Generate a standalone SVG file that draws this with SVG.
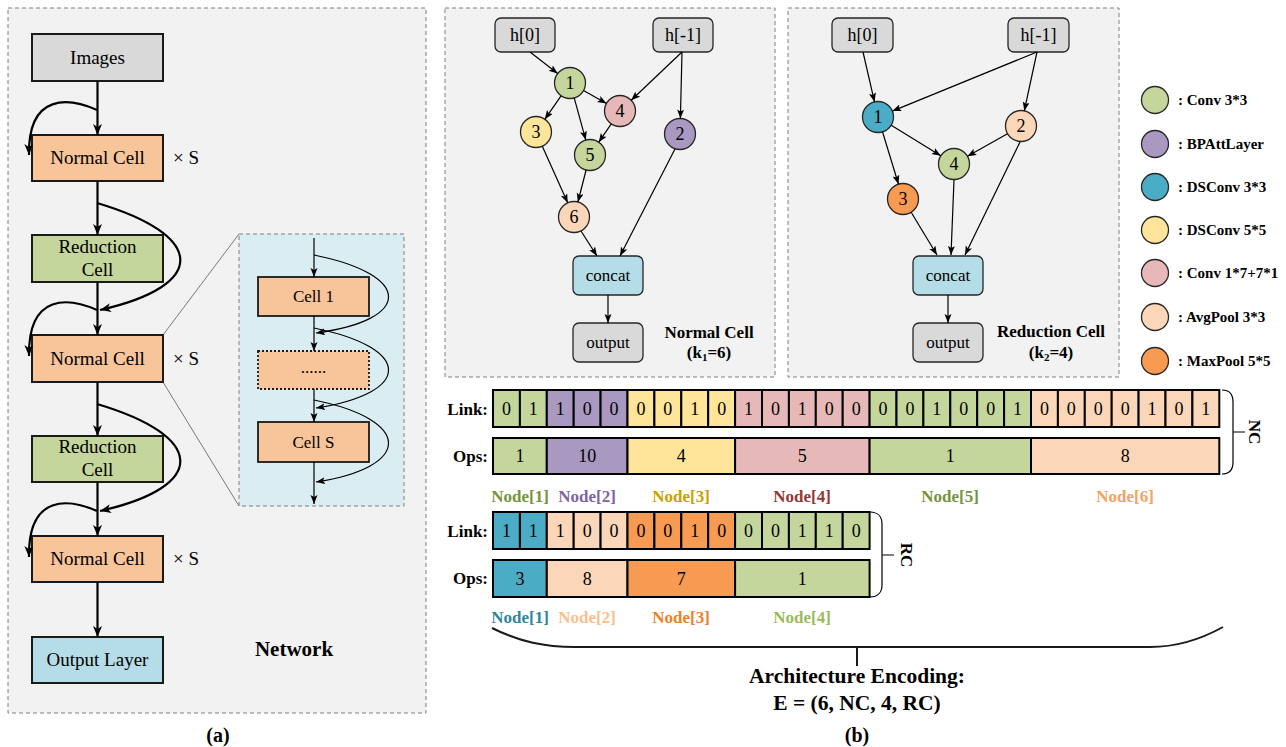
<svg xmlns="http://www.w3.org/2000/svg" width="1286" height="747" viewBox="0 0 1286 747">
  <defs>
    <marker id="arrA" markerUnits="userSpaceOnUse" markerWidth="12" markerHeight="10" refX="11" refY="4.5" orient="auto">
      <path d="M0,0 L11,4.5 L0,9 L3,4.5 z" fill="#000"/>
    </marker>
    <marker id="arrS" markerUnits="userSpaceOnUse" markerWidth="10" markerHeight="8" refX="9" refY="3.5" orient="auto">
      <path d="M0,0 L9,3.5 L0,7 L2,3.5 z" fill="#000"/>
    </marker>
    <style>
      .panel { fill: #f2f2f2; stroke: #7f7f7f; stroke-width: 1; stroke-dasharray: 4 3; }
      .blk { stroke: #1a1a1a; stroke-width: 2; }
      .t { font-family: "Liberation Serif", "Times New Roman", Times, serif; font-weight: normal; fill: #000; text-anchor: middle; }
      .b { font-family: "Liberation Serif", "Times New Roman", Times, serif; font-weight: bold; fill: #000; }
      .thick { fill: none; stroke: #000; stroke-width: 2.2; }
      .thin { fill: none; stroke: #000; stroke-width: 1.2; }
      .nd { stroke: #262626; stroke-width: 1.3; }
      .cell { stroke: #000; stroke-width: 2; }
      .gray { fill: #d9d9d9; }
      .peach { fill: #f8c49a; }
      .green { fill: #c4d69c; }
      .purple { fill: #a999c0; }
      .teal { fill: #4bacc6; }
      .yellow { fill: #fee599; }
      .pink { fill: #e6b9b8; }
      .avg { fill: #fbd6b8; }
      .orange { fill: #f79a52; }
      .blue { fill: #b5dde7; }
    </style>
  </defs>

  <!-- ============ (a) network ============ -->
  <rect class="panel" x="8" y="8" width="418" height="705"/>

  <!-- zoom inset -->
  <g id="inset">
    <line x1="163" y1="335" x2="239" y2="234" stroke="#595959" stroke-width="0.8"/>
    <line x1="163" y1="382" x2="239" y2="506" stroke="#595959" stroke-width="0.8"/>
    <rect x="239" y="234" width="165" height="272" fill="#daedf3" stroke="#7f7f7f" stroke-width="1" stroke-dasharray="4 3"/>
    <g id="cell-1">
      <rect class="peach" x="258" y="277" width="111" height="39" stroke="#1a1a1a" stroke-width="1.8"/>
      <text class="t" x="313.5" y="302" font-size="17">Cell 1</text>
    </g>
    <g id="cell-dots">
      <rect class="peach" x="258" y="351" width="111" height="38" stroke="#1a1a1a" stroke-width="1.8" stroke-dasharray="2 2"/>
      <text class="t" x="313.5" y="373" font-size="17" font-weight="bold">......</text>
    </g>
    <g id="cell-s">
      <rect class="peach" x="258" y="422" width="111" height="40" stroke="#1a1a1a" stroke-width="1.8"/>
      <text class="t" x="313.5" y="448" font-size="17">Cell S</text>
    </g>
    <g id="inset-connectors" class="thin" marker-end="url(#arrS)">
      <path d="M314,238 V277"/>
      <path d="M314,316 V351"/>
      <path d="M314,389 V422"/>
      <path d="M314,462 V504"/>
      <path d="M314,255 C413,275 413,320 316,333"/>
      <path d="M314,328 C413,348 413,393 316,408"/>
      <path d="M314,400 C413,420 413,467 316,482"/>
    </g>
  </g>

  <g id="images">
    <rect class="gray blk" x="32" y="34" width="131" height="47"/>
    <text class="t" x="97.5" y="64" font-size="19">Images</text>
  </g>
  <g id="normal-cell-1">
    <rect class="peach blk" x="32" y="135" width="131" height="46"/>
    <text class="t" x="97.5" y="164" font-size="19">Normal Cell</text>
    <text class="t" x="186" y="164" font-size="19">× S</text>
  </g>
  <g id="reduction-cell-1">
    <rect class="green blk" x="32" y="235" width="131" height="47"/>
    <text class="t" x="97.5" y="253" font-size="19">Reduction</text>
    <text class="t" x="97.5" y="276" font-size="19">Cell</text>
  </g>
  <g id="normal-cell-2">
    <rect class="peach blk" x="32" y="335" width="131" height="47"/>
    <text class="t" x="97.5" y="365" font-size="19">Normal Cell</text>
    <text class="t" x="186" y="365" font-size="19">× S</text>
  </g>
  <g id="reduction-cell-2">
    <rect class="green blk" x="32" y="436" width="131" height="46"/>
    <text class="t" x="97.5" y="453" font-size="19">Reduction</text>
    <text class="t" x="97.5" y="476" font-size="19">Cell</text>
  </g>
  <g id="normal-cell-3">
    <rect class="peach blk" x="32" y="536" width="131" height="46"/>
    <text class="t" x="97.5" y="565" font-size="19">Normal Cell</text>
    <text class="t" x="186" y="565" font-size="19">× S</text>
  </g>
  <g id="output-layer">
    <rect class="blue blk" x="32" y="637" width="131" height="46"/>
    <text class="t" x="97.5" y="666" font-size="19">Output Layer</text>
  </g>

  <g id="network-connectors" class="thick" marker-end="url(#arrA)">
    <path d="M97.5,81 V135"/>
    <path d="M97.5,181 V235"/>
    <path d="M97.5,282 V335"/>
    <path d="M97.5,382 V436"/>
    <path d="M97.5,482 V536"/>
    <path d="M97.5,582 V637"/>
    <path d="M97,110 C70,98 28,92 29,155"/>
    <path d="M97,203 C205,235 210,285 100,310"/>
    <path d="M97,310 C70,298 28,292 29,356"/>
    <path d="M97,404 C205,436 210,486 100,511"/>
    <path d="M97,511 C70,499 28,493 29,557"/>
  </g>

  <text class="b" x="294" y="656" font-size="21" text-anchor="middle">Network</text>
  <text class="b" x="218" y="742" font-size="20" text-anchor="middle">(a)</text>

  <!-- ============ normal cell ============ -->
  <rect class="panel" x="445" y="8" width="330" height="369"/>
  <g id="nc-h0"><rect class="gray nd" x="495" y="18" width="60" height="34" rx="6"/><text class="t" x="525" y="41" font-size="18">h[0]</text></g>
  <g id="nc-h1"><rect class="gray nd" x="653" y="18" width="60" height="34" rx="6"/><text class="t" x="683" y="41" font-size="18">h[-1]</text></g>
  <g id="nc-n1"><circle class="green nd" cx="570" cy="83" r="15.5"/><text class="t" x="570" y="89" font-size="18">1</text></g>
  <g id="nc-n2"><circle class="purple nd" cx="680" cy="134" r="15.5"/><text class="t" x="680" y="140" font-size="18">2</text></g>
  <g id="nc-n3"><circle class="yellow nd" cx="536" cy="132" r="15.5"/><text class="t" x="536" y="138" font-size="18">3</text></g>
  <g id="nc-n4"><circle class="pink nd" cx="620" cy="111" r="15.5"/><text class="t" x="620" y="117" font-size="18">4</text></g>
  <g id="nc-n5"><circle class="green nd" cx="590" cy="155" r="15.5"/><text class="t" x="590" y="161" font-size="18">5</text></g>
  <g id="nc-n6"><circle class="avg nd" cx="574" cy="217" r="15.5"/><text class="t" x="574" y="223" font-size="18">6</text></g>
  <g id="nc-concat"><rect class="blue nd" x="573" y="256" width="70" height="39" rx="6"/><text class="t" x="608" y="281" font-size="17">concat</text></g>
  <g id="nc-output"><rect class="gray nd" x="573" y="323" width="70" height="39" rx="6"/><text class="t" x="608" y="348" font-size="17">output</text></g>
  <g id="nc-connectors" class="thin" marker-end="url(#arrS)">
    <path d="M530,52 L557.7,73.5"/>
    <path d="M682,52 L631.2,100.3"/>
    <path d="M682,52 L680.4,118.5"/>
    <path d="M561.2,95.7 L544.8,119.3"/>
    <path d="M574.2,97.9 L585.8,140.1"/>
    <path d="M583.5,90.6 L606.5,103.4"/>
    <path d="M611.3,123.8 L598.7,142.2"/>
    <path d="M542.3,146.2 L567.7,202.8"/>
    <path d="M586.1,170 L577.9,202"/>
    <path d="M581,231 L597,256"/>
    <path d="M675,149 L620,256"/>
    <path d="M608,295 V323"/>
  </g>
  <text class="b" x="709" y="338" font-size="17" text-anchor="middle">Normal Cell</text>
  <text class="b" x="709" y="358" font-size="17" text-anchor="middle">(k<tspan font-size="11" dy="3">1</tspan><tspan dy="-3">=6)</tspan></text>

  <!-- ============ reduction cell ============ -->
  <rect class="panel" x="788" y="8" width="331" height="369"/>
  <g id="rc-h0"><rect class="gray nd" x="832" y="18" width="61" height="34" rx="6"/><text class="t" x="862.5" y="41" font-size="18">h[0]</text></g>
  <g id="rc-h1"><rect class="gray nd" x="1008" y="18" width="61" height="34" rx="6"/><text class="t" x="1038.5" y="41" font-size="18">h[-1]</text></g>
  <g id="rc-n1"><circle class="teal nd" cx="878" cy="117" r="15.5"/><text class="t" x="878" y="123" font-size="18">1</text></g>
  <g id="rc-n2"><circle class="avg nd" cx="1021" cy="126" r="15.5"/><text class="t" x="1021" y="132" font-size="18">2</text></g>
  <g id="rc-n3"><circle class="orange nd" cx="903" cy="199" r="15.5"/><text class="t" x="903" y="205" font-size="18">3</text></g>
  <g id="rc-n4"><circle class="green nd" cx="954" cy="164" r="15.5"/><text class="t" x="954" y="170" font-size="18">4</text></g>
  <g id="rc-concat"><rect class="blue nd" x="913" y="256" width="70" height="39" rx="6"/><text class="t" x="948" y="281" font-size="17">concat</text></g>
  <g id="rc-output"><rect class="gray nd" x="913" y="323" width="70" height="39" rx="6"/><text class="t" x="948" y="348" font-size="17">output</text></g>
  <g id="rc-connectors" class="thin" marker-end="url(#arrS)">
    <path d="M863,52 L874.5,101.9"/>
    <path d="M1037,52 L892.3,111.1"/>
    <path d="M1037,52 L1024.3,110.9"/>
    <path d="M891.2,125.2 L940.8,155.8"/>
    <path d="M1007.5,133.7 L967.5,156.3"/>
    <path d="M882.5,131.8 L898.5,184.2"/>
    <path d="M911,212 L937,255"/>
    <path d="M954,180 L951,255"/>
    <path d="M1020,142 L965,255"/>
    <path d="M948,295 V323"/>
  </g>
  <text class="b" x="1051" y="337" font-size="17" text-anchor="middle">Reduction Cell</text>
  <text class="b" x="1051" y="358" font-size="17" text-anchor="middle">(k<tspan font-size="11" dy="3">2</tspan><tspan dy="-3">=4)</tspan></text>

  <!-- ============ legend ============ -->
  <g id="legend">
    <circle class="green nd" cx="1155" cy="100" r="13.5"/><text class="b" x="1178" y="105" font-size="15">: Conv 3*3</text>
    <circle class="purple nd" cx="1155" cy="144" r="13.5"/><text class="b" x="1178" y="149" font-size="15">: BPAttLayer</text>
    <circle class="teal nd" cx="1155" cy="187" r="13.5"/><text class="b" x="1178" y="192" font-size="15">: DSConv 3*3</text>
    <circle class="yellow nd" cx="1155" cy="230" r="13.5"/><text class="b" x="1178" y="235" font-size="15">: DSConv 5*5</text>
    <circle class="pink nd" cx="1155" cy="273" r="13.5"/><text class="b" x="1178" y="278" font-size="15">: Conv 1*7+7*1</text>
    <circle class="avg nd" cx="1155" cy="317" r="13.5"/><text class="b" x="1178" y="322" font-size="15">: AvgPool 3*3</text>
    <circle class="orange nd" cx="1155" cy="361" r="13.5"/><text class="b" x="1178" y="366" font-size="15">: MaxPool 5*5</text>
  </g>

  <!-- ============ NC encoding ============ -->
  <g id="nc-encoding">
    <text class="b" x="488" y="415" font-size="17" text-anchor="end">Link:</text>
    <text class="b" x="488" y="462" font-size="17" text-anchor="end">Ops:</text>
    <g class="cell">
      <rect class="green" x="493" y="390" width="26.9" height="37"/>
      <rect class="green" x="519.9" y="390" width="26.9" height="37"/>
      <rect class="purple" x="546.8" y="390" width="26.9" height="37"/>
      <rect class="purple" x="573.7" y="390" width="26.9" height="37"/>
      <rect class="purple" x="600.6" y="390" width="26.9" height="37"/>
      <rect class="yellow" x="627.5" y="390" width="26.9" height="37"/>
      <rect class="yellow" x="654.4" y="390" width="26.9" height="37"/>
      <rect class="yellow" x="681.3" y="390" width="26.9" height="37"/>
      <rect class="yellow" x="708.2" y="390" width="26.9" height="37"/>
      <rect class="pink" x="735.1" y="390" width="26.9" height="37"/>
      <rect class="pink" x="762" y="390" width="26.9" height="37"/>
      <rect class="pink" x="788.9" y="390" width="26.9" height="37"/>
      <rect class="pink" x="815.8" y="390" width="26.9" height="37"/>
      <rect class="pink" x="842.7" y="390" width="26.9" height="37"/>
      <rect class="green" x="869.6" y="390" width="26.9" height="37"/>
      <rect class="green" x="896.5" y="390" width="26.9" height="37"/>
      <rect class="green" x="923.4" y="390" width="26.9" height="37"/>
      <rect class="green" x="950.3" y="390" width="26.9" height="37"/>
      <rect class="green" x="977.2" y="390" width="26.9" height="37"/>
      <rect class="green" x="1004.1" y="390" width="26.9" height="37"/>
      <rect class="avg" x="1031" y="390" width="26.9" height="37"/>
      <rect class="avg" x="1057.9" y="390" width="26.9" height="37"/>
      <rect class="avg" x="1084.8" y="390" width="26.9" height="37"/>
      <rect class="avg" x="1111.7" y="390" width="26.9" height="37"/>
      <rect class="avg" x="1138.6" y="390" width="26.9" height="37"/>
      <rect class="avg" x="1165.5" y="390" width="26.9" height="37"/>
      <rect class="avg" x="1192.4" y="390" width="26.9" height="37"/>
      <rect class="green" x="493" y="438" width="53.8" height="36"/>
      <rect class="purple" x="546.8" y="438" width="80.7" height="36"/>
      <rect class="yellow" x="627.5" y="438" width="107.6" height="36"/>
      <rect class="pink" x="735.1" y="438" width="134.5" height="36"/>
      <rect class="green" x="869.6" y="438" width="161.4" height="36"/>
      <rect class="avg" x="1031" y="438" width="188.3" height="36"/>
    </g>
    <g class="t" font-size="18">
      <text x="506.45" y="415">0</text><text x="533.35" y="415">1</text>
      <text x="560.25" y="415">1</text><text x="587.15" y="415">0</text><text x="614.05" y="415">0</text>
      <text x="640.95" y="415">0</text><text x="667.85" y="415">0</text><text x="694.75" y="415">1</text><text x="721.65" y="415">0</text>
      <text x="748.55" y="415">1</text><text x="775.45" y="415">0</text><text x="802.35" y="415">1</text><text x="829.25" y="415">0</text><text x="856.15" y="415">0</text>
      <text x="883.05" y="415">0</text><text x="909.95" y="415">0</text><text x="936.85" y="415">1</text><text x="963.75" y="415">0</text><text x="990.65" y="415">0</text><text x="1017.55" y="415">1</text>
      <text x="1044.45" y="415">0</text><text x="1071.35" y="415">0</text><text x="1098.25" y="415">0</text><text x="1125.15" y="415">0</text><text x="1152.05" y="415">1</text><text x="1178.95" y="415">0</text><text x="1205.85" y="415">1</text>
      <text x="519.9" y="462">1</text>
      <text x="587.15" y="462">10</text>
      <text x="681.3" y="462">4</text>
      <text x="802.35" y="462">5</text>
      <text x="950.3" y="462">1</text>
      <text x="1125.15" y="462">8</text>
    </g>
    <g class="b" font-size="17" text-anchor="middle">
      <text x="520" y="502" fill="#77933c">Node[1]</text>
      <text x="587" y="502" fill="#8064a2">Node[2]</text>
      <text x="681" y="502" fill="#c9a200">Node[3]</text>
      <text x="802" y="502" fill="#953735">Node[4]</text>
      <text x="950" y="502" fill="#77933c">Node[5]</text>
      <text x="1125" y="502" fill="#f5a35e">Node[6]</text>
    </g>
    <path class="thin" d="M1222,390 C1230,390 1233,395 1233,402 L1233,462 C1233,469 1230,474 1222,474 M1233,432 H1245"/>
    <text class="b" font-size="17" text-anchor="middle" transform="translate(1249,432) rotate(90)">NC</text>
  </g>

  <!-- ============ RC encoding ============ -->
  <g id="rc-encoding">
    <text class="b" x="488" y="537" font-size="17" text-anchor="end">Link:</text>
    <text class="b" x="488" y="584" font-size="17" text-anchor="end">Ops:</text>
    <g class="cell">
      <rect class="teal" x="493" y="512" width="26.9" height="37"/>
      <rect class="teal" x="519.9" y="512" width="26.9" height="37"/>
      <rect class="avg" x="546.8" y="512" width="26.9" height="37"/>
      <rect class="avg" x="573.7" y="512" width="26.9" height="37"/>
      <rect class="avg" x="600.6" y="512" width="26.9" height="37"/>
      <rect class="orange" x="627.5" y="512" width="26.9" height="37"/>
      <rect class="orange" x="654.4" y="512" width="26.9" height="37"/>
      <rect class="orange" x="681.3" y="512" width="26.9" height="37"/>
      <rect class="orange" x="708.2" y="512" width="26.9" height="37"/>
      <rect class="green" x="735.1" y="512" width="26.9" height="37"/>
      <rect class="green" x="762" y="512" width="26.9" height="37"/>
      <rect class="green" x="788.9" y="512" width="26.9" height="37"/>
      <rect class="green" x="815.8" y="512" width="26.9" height="37"/>
      <rect class="green" x="842.7" y="512" width="26.9" height="37"/>
      <rect class="teal" x="493" y="560" width="53.8" height="37"/>
      <rect class="avg" x="546.8" y="560" width="80.7" height="37"/>
      <rect class="orange" x="627.5" y="560" width="107.6" height="37"/>
      <rect class="green" x="735.1" y="560" width="134.5" height="37"/>
    </g>
    <g class="t" font-size="18">
      <text x="506.45" y="537">1</text><text x="533.35" y="537">1</text>
      <text x="560.25" y="537">1</text><text x="587.15" y="537">0</text><text x="614.05" y="537">0</text>
      <text x="640.95" y="537">0</text><text x="667.85" y="537">0</text><text x="694.75" y="537">1</text><text x="721.65" y="537">0</text>
      <text x="748.55" y="537">0</text><text x="775.45" y="537">0</text><text x="802.35" y="537">1</text><text x="829.25" y="537">1</text><text x="856.15" y="537">0</text>
      <text x="519.9" y="585">3</text>
      <text x="587.15" y="585">8</text>
      <text x="681.3" y="585">7</text>
      <text x="802.35" y="585">1</text>
    </g>
    <g class="b" font-size="17" text-anchor="middle">
      <text x="520" y="623" fill="#31859c">Node[1]</text>
      <text x="587" y="623" fill="#fabf8f">Node[2]</text>
      <text x="681" y="623" fill="#f07f2b">Node[3]</text>
      <text x="802" y="623" fill="#9bbb59">Node[4]</text>
    </g>
    <path class="thin" d="M870,512 C878,512 882,517 882,524 L882,585 C882,592 878,597 870,597 M882,555 H894"/>
    <text class="b" font-size="17" text-anchor="middle" transform="translate(901,555) rotate(90)">RC</text>
  </g>

  <!-- ============ architecture encoding ============ -->
  <path d="M492,628 C520,642 545,647 575,647 H1150 C1180,647 1205,637 1223,627 M857,647 V666" fill="none" stroke="#1a1a1a" stroke-width="2"/>
  <text class="b" x="857" y="683" font-size="21.5" text-anchor="middle">Architecture Encoding:</text>
  <text class="b" x="857" y="710" font-size="21.5" text-anchor="middle">E = (6, NC, 4, RC)</text>
  <text class="b" x="857" y="742" font-size="20" text-anchor="middle">(b)</text>
</svg>
